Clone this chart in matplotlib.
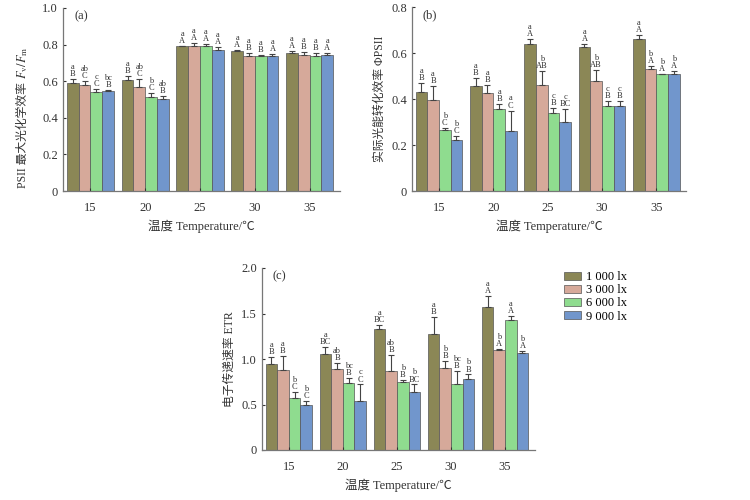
import matplotlib
matplotlib.use("Agg")
import matplotlib.pyplot as plt
import numpy as np

plt.rcParams['font.family'] = ['Liberation Serif', 'Noto Sans CJK SC', 'DejaVu Sans']
plt.rcParams['mathtext.fontset'] = 'stix'

temps = ["15", "20", "25", "30", "35"]
series_names = ["1 000 lx", "3 000 lx", "6 000 lx", "9 000 lx"]
colors = ["#8b8756", "#d6a99a", "#8fdc8f", "#7196cc"]

# Panel (a) Fv/Fm
fvfm = [
    [0.59, 0.605, 0.79, 0.765, 0.755],
    [0.58, 0.57, 0.795, 0.74, 0.745],
    [0.54, 0.515, 0.79, 0.735, 0.735],
    [0.545, 0.505, 0.77, 0.74, 0.745],
]
fvfm_err = [
    [0.02, 0.025, 0.005, 0.005, 0.01],
    [0.02, 0.04, 0.015, 0.015, 0.015],
    [0.02, 0.02, 0.015, 0.01, 0.02],
    [0.005, 0.015, 0.015, 0.01, 0.01],
]
fvfm_lab = [
    ["a\nB", "a\nB", "a\nA", "a\nA", "a\nA"],
    ["ab\nC", "ab\nC", "a\nA", "a\nB", "a\nB"],
    ["c\nC", "b\nC", "a\nA", "a\nB", "a\nB"],
    ["bc\nB", "ab\nB", "a\nA", "a\nA", "a\nA"],
]

# Panel (b) PhiPSII
phi = [
    [0.43, 0.455, 0.64, 0.625, 0.66],
    [0.395, 0.425, 0.46, 0.48, 0.53],
    [0.265, 0.355, 0.34, 0.37, 0.51],
    [0.22, 0.26, 0.30, 0.37, 0.51],
]
phi_err = [
    [0.04, 0.035, 0.02, 0.015, 0.02],
    [0.06, 0.035, 0.06, 0.045, 0.015],
    [0.01, 0.025, 0.02, 0.02, 0.0],
    [0.02, 0.09, 0.055, 0.02, 0.01],
]
phi_lab = [
    ["a\nB", "a\nB", "a\nA", "a\nA", "a\nA"],
    ["a\nB", "a\nB", "b\nAB", "b\nAB", "b\nA"],
    ["b\nC", "a\nB", "c\nB", "c\nB", "b\nA"],
    ["b\nC", "a\nC", "c\nBC", "c\nB", "b\nA"],
]

# Panel (c) ETR
etr = [
    [0.95, 1.05, 1.33, 1.27, 1.57],
    [0.88, 0.89, 0.87, 0.90, 1.10],
    [0.57, 0.74, 0.75, 0.72, 1.43],
    [0.49, 0.54, 0.64, 0.78, 1.07],
]
etr_err = [
    [0.07, 0.08, 0.04, 0.19, 0.12],
    [0.15, 0.07, 0.17, 0.08, 0.01],
    [0.07, 0.05, 0.02, 0.15, 0.04],
    [0.05, 0.18, 0.08, 0.05, 0.02],
]
etr_lab = [
    ["a\nB", "a\nBC", "a\nBC", "a\nB", "a\nA"],
    ["a\nB", "ab\nB", "ab\nB", "b\nB", "b\nA"],
    ["b\nC", "bc\nB", "b\nB", "bc\nB", "a\nA"],
    ["b\nC", "c\nC", "b\nBC", "b\nB", "b\nA"],
]

fig = plt.figure(figsize=(7.5, 5), dpi=100)
ax_a = fig.add_axes([0.084, 0.618, 0.369, 0.366])
ax_b = fig.add_axes([0.549, 0.618, 0.366, 0.368])
ax_c = fig.add_axes([0.349, 0.100, 0.364, 0.364])

TXT = "#333333"

def draw(ax, vals, errs, labs, ymax, yticks, yticklabels, ylabel, tag, off):
    x = np.arange(len(temps))
    w = 0.215
    bars = []
    for i in range(4):
        pos = x + (i - 1.5) * w
        b = ax.bar(pos, vals[i], width=w, color=colors[i], edgecolor="#555555",
                   linewidth=0.5, label=series_names[i])
        bars.append(b)
        ax.errorbar(pos, vals[i], yerr=[np.zeros(5), errs[i]], fmt='none',
                    ecolor="#444444", elinewidth=0.8, capsize=2.2, capthick=0.8)
        for j in range(5):
            ax.text(pos[j], vals[i][j] + errs[i][j] + off, labs[i][j],
                    ha='center', va='bottom', fontsize=6, linespacing=0.85,
                    color=TXT)
    ax.set_xlim(-0.5, 4.55)
    ax.set_ylim(0, ymax)
    ax.set_xticks(x)
    ax.set_xticklabels(temps)
    ax.set_yticks(yticks)
    ax.set_yticklabels(yticklabels)
    ax.tick_params(direction='in', length=2.5, labelsize=9, colors=TXT)
    ax.tick_params(axis='x', pad=8)
    for s in ['top', 'right']:
        ax.spines[s].set_visible(False)
    for s in ['left', 'bottom']:
        ax.spines[s].set_color("#777777")
        ax.spines[s].set_linewidth(0.9)
    ax.set_xlabel("温度 Temperature/℃", fontsize=9, color=TXT, labelpad=4)
    if ylabel:
        ax.set_ylabel(ylabel, fontsize=8.5, color=TXT)
    ax.text(0.04, 0.985, tag, transform=ax.transAxes, fontsize=9,
            ha='left', va='top', color=TXT)
    return bars

draw(ax_a, fvfm, fvfm_err, fvfm_lab, 1.0, [0, 0.2, 0.4, 0.6, 0.8, 1.0],
     ["0", "0.2", "0.4", "0.6", "0.8", "1.0"], None, "(a)", 0.005)
draw(ax_b, phi, phi_err, phi_lab, 0.8, [0, 0.2, 0.4, 0.6, 0.8],
     ["0", "0.2", "0.4", "0.6", "0.8"],
     "实际光能转化效率 ΦPSII", "(b)", 0.004)
bars = draw(ax_c, etr, etr_err, etr_lab, 2.0, [0, 0.5, 1.0, 1.5, 2.0],
            ["0", "0.5", "1.0", "1.5", "2.0"],
            "电子传递速率 ETR", "(c)", 0.01)

# y label of panel (a): plain part + math part
xlab = 0.030
t1 = fig.text(xlab, 0.625, "PSII 最大光化学效率 ", rotation=90, ha='center',
              va='bottom', fontsize=8.5, color=TXT)
fig.canvas.draw()
bb = t1.get_window_extent(renderer=fig.canvas.get_renderer())
ytop = bb.y1 / fig.bbox.height
fig.text(xlab, ytop, "$\\mathit{F}_{\\mathrm{v}}/\\mathit{F}_{\\mathrm{m}}$",
         rotation=90, ha='center', va='bottom', fontsize=9, color=TXT)

fig.legend(handles=bars, labels=series_names, loc='upper left',
           bbox_to_anchor=(0.745, 0.468), frameon=False, fontsize=9,
           handlelength=1.4, handleheight=0.6, handletextpad=0.4,
           labelspacing=0.1, borderaxespad=0)

fig.savefig("out.png", dpi=100)
